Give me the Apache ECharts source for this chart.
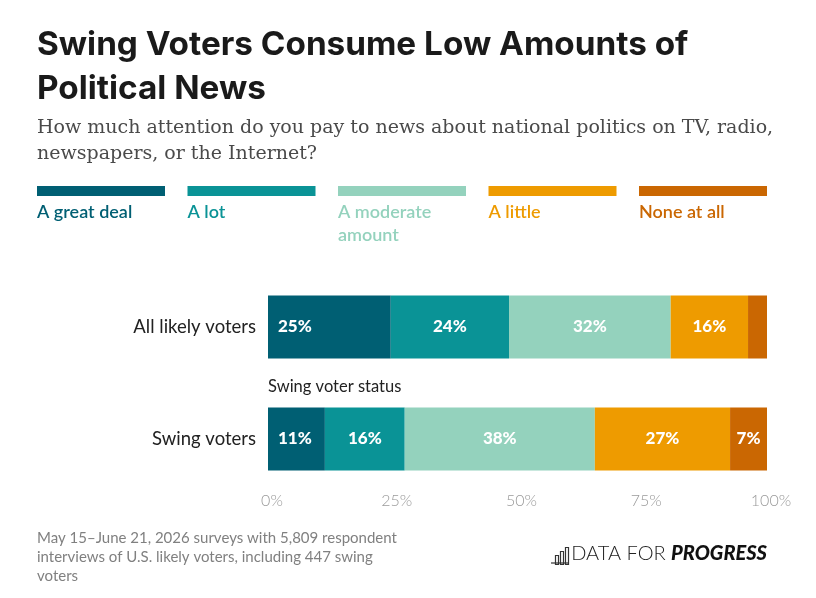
<!DOCTYPE html>
<html>
<head>
<meta charset="utf-8">
<script src="https://cdn.jsdelivr.net/npm/echarts@6/dist/echarts.min.js"></script>
<style>
  html, body { margin: 0; padding: 0; background: #fff; }
  #chart { width: 816px; height: 598px; }
</style>
</head>
<body>
<div id="chart"></div>
<script>
// rows, top to bottom
const categories = ['All likely voters', 'Swing voters'];
// answer options, in stacking order
const responses = ['A great deal', 'A lot', 'A moderate amount', 'A little', 'None at all'];
// share of respondents (%), one value per row
const greatDeal = [24.6, 11.4];
const aLot = [23.7, 16.0];
const moderate = [32.4, 38.1];
const aLittle = [15.5, 27.1];
const noneAtAll = [3.8, 7.4];
const xTicks = [0, 25, 50, 75, 100];

const seriesValues = [greatDeal, aLot, moderate, aLittle, noneAtAll];
const colors = ['#005f73', '#0a9396', '#94d2bd', '#ee9b00', '#ca6702'];
const sans = 'Lato, "Noto Sans", sans-serif';

const chart = echarts.init(document.getElementById('chart'));

// legend: swatch bar with the label under it
const legendItems = [];
responses.forEach((name, i) => {
  const x = 37 + i * 150.5;
  legendItems.push({
    type: 'rect', left: x, top: 186,
    shape: { width: 128, height: 10 },
    style: { fill: colors[i] }
  });
  legendItems.push({
    type: 'text', left: x, top: 201,
    style: {
      text: name, fill: colors[i], font: '600 18px ' + sans,
      width: 128, overflow: 'break', lineHeight: 23
    }
  });
});

// little bar-chart icon of the logo
const logo = [
  { type: 'rect', left: 553, top: 553, shape: { width: 3, height: 9 }, style: { fill: 'none', stroke: '#333', lineWidth: 1.2 } },
  { type: 'rect', left: 558, top: 549, shape: { width: 3, height: 13 }, style: { fill: 'none', stroke: '#333', lineWidth: 1.2 } },
  { type: 'rect', left: 563, top: 545, shape: { width: 3, height: 17 }, style: { fill: 'none', stroke: '#333', lineWidth: 1.2 } },
  { type: 'line', shape: { x1: 551, y1: 563, x2: 568, y2: 563 }, style: { stroke: '#333', lineWidth: 1.2 } },
  {
    type: 'text', right: 49, top: 544,
    style: {
      text: '{a|DATA FOR }{b|PROGRESS}',
      rich: {
        a: { font: '300 20px ' + sans, fill: '#222' },
        b: { font: 'italic 900 20px ' + sans, fill: '#111' }
      }
    }
  }
];

chart.setOption({
  animation: false,
  title: [
    {
      text: 'Swing Voters Consume Low Amounts of\nPolitical News',
      left: 32, top: 18,
      textStyle: { fontFamily: 'Inter, sans-serif', fontWeight: 700, fontSize: 33.3, lineHeight: 44, color: '#1a1a1a' }
    },
    {
      text: 'How much attention do you pay to news about national politics on TV, radio,\nnewspapers, or the Internet?',
      left: 32, top: 110,
      textStyle: { fontFamily: '"DejaVu Serif", serif', fontWeight: 400, fontSize: 19, lineHeight: 26, color: '#4a4a4a' }
    }
  ],
  grid: { left: 268, right: 49, top: 271, bottom: 103 },
  xAxis: {
    type: 'value', min: 0, max: 100, interval: 25,
    axisLine: { show: false }, axisTick: { show: false }, splitLine: { show: false },
    axisLabel: {
      margin: -2, color: '#9a9a9a', fontFamily: sans, fontSize: 16, fontWeight: 300,
      padding: [0, 0, 0, 8],
      formatter: v => xTicks.includes(v) ? v + '%' : ''
    }
  },
  yAxis: {
    type: 'category', data: categories, inverse: true,
    axisLine: { show: false }, axisTick: { show: false },
    axisLabel: { margin: 12, color: '#222', fontFamily: sans, fontSize: 18.5 }
  },
  series: responses.map((name, i) => ({
    name, type: 'bar', stack: 'total', barWidth: 63,
    data: seriesValues[i],
    itemStyle: { color: colors[i] },
    label: {
      show: true,
      position: i === 0 ? 'insideLeft' : 'inside',
      distance: 10,
      color: '#fff', fontFamily: sans, fontWeight: 900, fontSize: 17,
      formatter: p => p.value < 5 ? '' : Math.round(p.value) + '%'
    }
  })),
  graphic: [
    {
      type: 'text', left: 268, top: 378,
      style: { text: 'Swing voter status', fill: '#222', font: '16.5px ' + sans }
    },
    {
      type: 'text', left: 37, top: 529,
      style: {
        text: 'May 15\u2013June 21, 2026 surveys with 5,809 respondent\ninterviews of U.S. likely voters, including 447 swing\nvoters',
        fill: '#808080', font: '15px ' + sans, lineHeight: 19
      }
    },
    ...legendItems,
    ...logo
  ]
});
</script>
</body>
</html>
